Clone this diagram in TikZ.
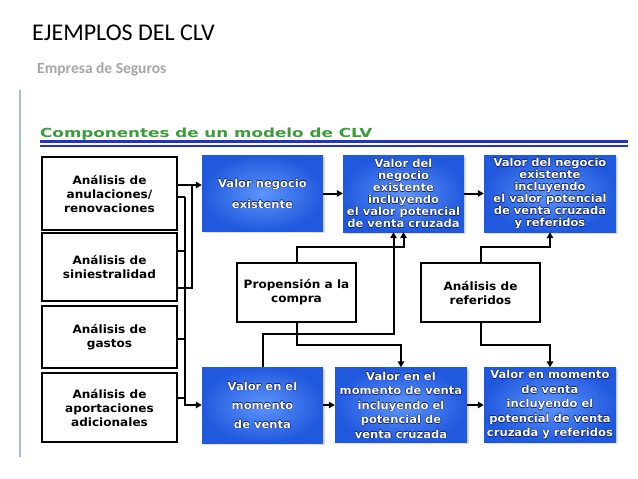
\documentclass[tikz,border=0pt]{standalone}
\usepackage{fontspec}
\setmainfont{DejaVu Sans}
\newfontfamily\headfont{Carlito}
\newfontfamily\boxfont[FakeStretch=1.05]{DejaVu Sans}
\newfontfamily\titlefont[FakeStretch=1.34]{DejaVu Sans}
\usetikzlibrary{arrows.meta, calc, shadows}
\definecolor{valblue}{HTML}{2159DE}
\definecolor{valglow}{HTML}{5C95FA}
\definecolor{txtline}{HTML}{0A1F6E}
\definecolor{titlegreen}{HTML}{3C9C3C}
\definecolor{rulebl}{HTML}{2232C8}
\definecolor{subgray}{HTML}{A6A6A6}
\definecolor{sidebar}{HTML}{A3C2C8}
\newcommand\outl[1]{\leavevmode\rlap{\color{txtline}\kern-0.55pt#1}\rlap{\color{txtline}\kern0.55pt#1}%
  \rlap{\color{txtline}\raisebox{0.55pt}{#1}}\rlap{\color{txtline}\raisebox{-0.55pt}{#1}}#1}

\begin{document}
\begin{tikzpicture}[
  x=1pt, y=-1pt,
  frame/.style={draw=black, line width=2pt, fill=white, minimum width=135pt,
                inner sep=0pt, align=center, font=\boxfont\bfseries\fontsize{11.5}{14}\selectfont},
  midbox/.style={frame, minimum width=119pt, minimum height=59pt},
  valor/.style={shading=radial, inner color=valglow, outer color=valblue, text=white,
                minimum width=121pt, minimum height=76pt, inner sep=0pt, align=center,
                font=\boxfont\bfseries\fontsize{11}{12}\selectfont,
                drop shadow={opacity=0.25, shadow xshift=1.5pt, shadow yshift=-1.5pt}},
  wide/.style={valor, minimum width=132pt},
  wire/.style={line width=2pt},
  arr/.style={wire, -{Triangle[length=6pt, width=6.5pt]}},
]
\useasboundingbox (0,0) rectangle (638,479);

% slide heading
\node[anchor=base west, inner sep=0pt, font=\headfont\fontsize{24}{28}\selectfont] (head) at (32,41) {EJEMPLOS DEL CLV};
\node[anchor=base west, inner sep=0pt, font=\headfont\bfseries\fontsize{15.5}{18}\selectfont, text=subgray] (sub) at (37,73) {Empresa de Seguros};
\draw[sidebar, line width=1.2pt] (20,90) -- (20,457);

\node[anchor=base west, inner sep=0pt, font=\titlefont\bfseries\fontsize{12.5}{15}\selectfont, text=titlegreen] (title) at (40,137) {Componentes de un modelo de CLV};
\draw[rulebl, line width=2.5pt] (40,141.5) -- (628,141.5);
\draw[rulebl, line width=2pt] (40,145.5) -- (628,145.5);

% analysis inputs
\node[frame, minimum height=73pt] (an1) at (109.5,193.5) {Análisis de\\anulaciones/\\renovaciones};
\node[frame, minimum height=68pt] (an2) at (109.5,267) {Análisis de\\siniestralidad};
\node[frame, minimum height=62pt] (an3) at (109.5,337) {Análisis de\\gastos};
\node[frame, minimum height=69pt] (an4) at (109.5,407.5) {Análisis de\\aportaciones\\adicionales};

% value blocks
\node[valor] (vne) at (262.5,193.5) {\outl{Valor negocio}\\[9pt]\outl{existente}};
\node[valor, minimum height=77pt] (vnc) at (403.5,193.5)
  {\outl{Valor del}\\\outl{negocio}\\\outl{existente}\\\outl{incluyendo}\\\outl{el valor potencial}\\\outl{de venta cruzada}};
\node[wide, minimum height=77pt] (vnr) at (550,193.5)
  {\outl{Valor del negocio}\\\outl{existente}\\\outl{incluyendo}\\\outl{el valor potencial}\\\outl{de venta cruzada}\\\outl{y referidos}};
\node[valor] (vmv) at (262.5,405) {\outl{Valor en el}\\[7pt]\outl{momento}\\[7pt]\outl{de venta}};
\node[wide, minimum height=75pt] (vmc) at (401,405)
  {\outl{Valor en el}\\[2.5pt]\outl{momento de venta}\\[2.5pt]\outl{incluyendo el}\\[2.5pt]\outl{potencial de}\\[2.5pt]\outl{venta cruzada}};
\node[wide, minimum height=75pt] (vmr) at (550,405)
  {\outl{Valor en momento}\\[2.5pt]\outl{de venta}\\[2.5pt]\outl{incluyendo el}\\[2.5pt]\outl{potencial de venta}\\[2.5pt]\outl{cruzada y referidos}};

\node[midbox] (pro) at (296.5,292.5) {Propensión a la\\compra};
\node[midbox] (ref) at (480.5,292.5) {Análisis de\\referidos};

% bus lines from the inputs
\coordinate (busA) at (192,185);
\coordinate (busB) at (185,197);
\draw[arr] ([yshift=8.5pt]an1.east) -- ([yshift=8.5pt]vne.west);
\draw[wire] ([yshift=-20.5pt]an2.east) -| (busA);
\draw[wire] ([yshift=-3.5pt]an1.east) -- (busB);
\foreach \b/\dy in {an2/16, an3/-2, an4/9.5}
  \draw[wire] ([yshift=\dy pt]\b.east) -- ++(8,0);
\draw[arr] (busB) |- (vmv.west);

\draw[arr] (vne.east) -- (vnc.west);
\draw[arr] (vnc.east) -- (vnr.west);
\draw[arr] (vmv.east) -- (vmc.west);
\draw[arr] (vmc.east) -- (vmr.west);

\draw[arr] (pro.north) -- ++(0,-15) -| (vnc.south);
\draw[arr] (vmv.north) -- ++(0,-33) -| ([xshift=-10pt]vnc.south);
\draw[arr] (pro.south) -- ++(0,22) -| (vmc.north);
\draw[arr] (ref.north) -- ++(0,-15) -| (vnr.south);
\draw[arr] (ref.south) -- ++(0,22) -| (vmr.north);
\end{tikzpicture}
\end{document}
